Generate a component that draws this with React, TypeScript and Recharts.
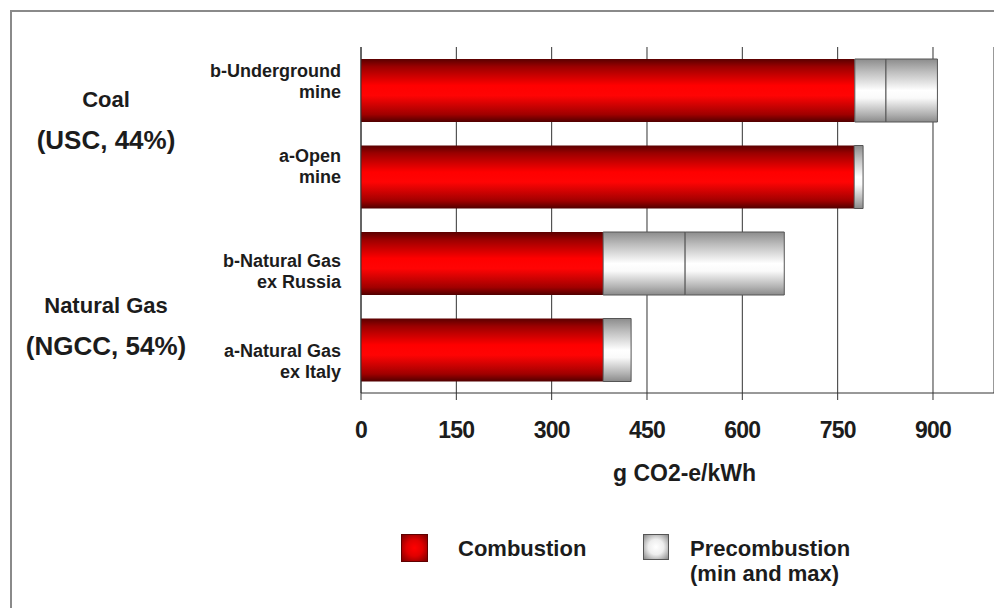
import React from 'react';
import {
  BarChart,
  Bar,
  XAxis,
  YAxis,
  CartesianGrid,
  Legend
} from 'recharts';

// values (g CO2-e/kWh)
const categories = [
  'b-Underground|mine',
  'a-Open|mine',
  'b-Natural Gas|ex Russia',
  'a-Natural Gas|ex Italy'
];
const combustion = [777, 776, 381, 381];
const precombustionMin = [826, 790, 510, 425];
const precombustionMax = [907, 790, 666, 425];
const xTicks = [0, 150, 300, 450, 600, 750, 900];

const groups = [
  { name: 'Coal', detail: '(USC, 44%)' },
  { name: 'Natural Gas', detail: '(NGCC, 54%)' }
];

const data = categories.map((name, i) => ({
  name,
  combustion: combustion[i],
  preMin: precombustionMin[i] - combustion[i],
  preMax: precombustionMax[i] - precombustionMin[i]
}));

const FONT = '"Liberation Sans", Arial, sans-serif';
const INK = '#1c1c1c';

// first-line baseline offset from band centre, per row
const labelShift = [-13, -15, 4, 7];

const CategoryTick = (props: any) => {
  const { y, payload, index } = props;
  const lines = String(payload.value).split('|');
  const base = y + labelShift[index];
  return (
    <text x={341} y={base} textAnchor="end" fontFamily={FONT} fontSize={18} fontWeight="bold" fill={INK}>
      <tspan x={341} y={base}>{lines[0]}</tspan>
      <tspan x={341} y={base + 21}>{lines[1]}</tspan>
    </text>
  );
};

const LegendBox = () => (
  <div style={{ position: 'relative', width: 994, height: 80, fontFamily: FONT, fontWeight: 'bold', color: INK, fontSize: 22 }}>
    <div
      style={{
        position: 'absolute', left: 401, top: 9, width: 25, height: 26,
        background: 'radial-gradient(circle, #ff0000 0%, #e00000 45%, #7a0000 100%)',
        border: '1px solid #600000'
      }}
    />
    <div style={{ position: 'absolute', left: 458, top: 11, lineHeight: '26px' }}>Combustion</div>
    <div
      style={{
        position: 'absolute', left: 643, top: 9, width: 24, height: 24,
        background: 'radial-gradient(circle, #ffffff 0%, #eeeeee 45%, #8a8a8a 100%)',
        border: '1px solid #555'
      }}
    />
    <div style={{ position: 'absolute', left: 690, top: 11, lineHeight: '25px' }}>
      Precombustion<br />(min and max)
    </div>
  </div>
);

const App: React.FC = () => {
  return (
    <div style={{ position: 'absolute', left: 0, top: 0, width: 994, height: 608, overflow: 'hidden', background: '#fff' }}>
      <div style={{ position: 'absolute', left: 10, top: 10, width: 1100, height: 700, border: '2px solid #8a8a8a' }} />

      {groups.map((g, i) => (
        <div
          key={g.name}
          style={{
            position: 'absolute', left: 0, width: 212, top: i === 0 ? 85 : 291,
            textAlign: 'center', fontFamily: FONT, fontWeight: 'bold', color: INK
          }}
        >
          <div style={{ fontSize: 22, lineHeight: '30px' }}>{g.name}</div>
          <div style={{ fontSize: 26, lineHeight: '50px' }}>{g.detail}</div>
        </div>
      ))}

      <div style={{ position: 'absolute', left: 0, top: 0 }}>
        <BarChart
          width={994}
          height={608}
          data={data}
          layout="vertical"
          margin={{ top: 47, right: 0, bottom: 0, left: 0 }}
          barCategoryGap={0}
        >
          <defs>
            <linearGradient id="redFill" x1="0" y1="0" x2="0" y2="1">
              <stop offset="0%" stopColor="#5a0000" />
              <stop offset="12%" stopColor="#9a0000" />
              <stop offset="42%" stopColor="#ff0000" />
              <stop offset="58%" stopColor="#ff0404" />
              <stop offset="88%" stopColor="#a00000" />
              <stop offset="100%" stopColor="#500000" />
            </linearGradient>
            <linearGradient id="greyFill" x1="0" y1="0" x2="0" y2="1">
              <stop offset="0%" stopColor="#8c8c8c" />
              <stop offset="20%" stopColor="#bdbdbd" />
              <stop offset="50%" stopColor="#ffffff" />
              <stop offset="62%" stopColor="#fafafa" />
              <stop offset="88%" stopColor="#b0b0b0" />
              <stop offset="100%" stopColor="#8a8a8a" />
            </linearGradient>
          </defs>
          <CartesianGrid horizontal={false} stroke="#333" />
          <XAxis
            type="number"
            domain={[0, 996]}
            ticks={xTicks}
            interval={0}
            height={135}
            axisLine={{ stroke: '#333' }}
            tickLine={{ stroke: '#333' }}
            tickSize={7}
            tickMargin={22}
            tick={{ fontSize: 23, fontWeight: 'bold', fill: INK, fontFamily: FONT, letterSpacing: -0.8 }}
            label={{
              value: 'g CO2-e/kWh',
              position: 'insideTop',
              offset: 72,
              dx: 7,
              fontSize: 23,
              fontFamily: FONT,
              fill: INK,
              fontWeight: 'bold'
            }}
          />
          <XAxis
            xAxisId="top"
            type="number"
            orientation="top"
            domain={[0, 996]}
            height={0}
            tick={false}
            tickLine={false}
            axisLine={{ stroke: '#a8a8a8' }}
          />
          <YAxis
            type="category"
            dataKey="name"
            width={361}
            axisLine={{ stroke: '#333' }}
            tickLine={false}
            tick={<CategoryTick />}
          />
          <Legend
            content={<LegendBox />}
            wrapperStyle={{ position: 'absolute', left: 0, top: 525, width: 994, height: 80 }}
          />
          <Bar dataKey="combustion" name="Combustion" stackId="a" fill="url(#redFill)" barSize={63} isAnimationActive={false} />
          <Bar dataKey="preMin" name="Precombustion (min)" stackId="a" fill="url(#greyFill)" stroke="#555" strokeWidth={1} barSize={63} isAnimationActive={false} />
          <Bar dataKey="preMax" name="Precombustion (max)" stackId="a" fill="url(#greyFill)" stroke="#555" strokeWidth={1} barSize={63} isAnimationActive={false} />
        </BarChart>
      </div>
    </div>
  );
};

export default App;
